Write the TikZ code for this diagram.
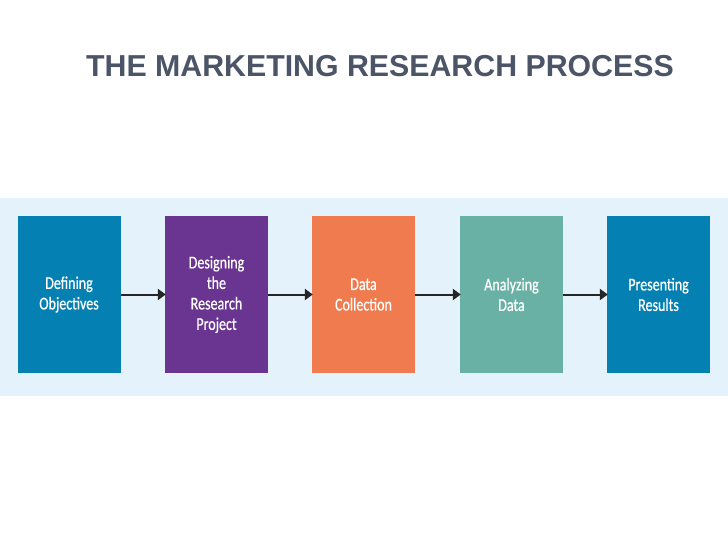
\documentclass[tikz,border=0pt]{standalone}
\usepackage{fontspec}
\setmainfont{Carlito}
\newfontfamily\boxfont[FakeStretch=0.78,FakeBold=0.6]{Carlito}
\newfontfamily\titlefont{Liberation Sans}
\usetikzlibrary{arrows.meta}
\definecolor{band}{HTML}{E3F2FB}
\definecolor{cblue}{HTML}{0580B2}
\definecolor{cpurple}{HTML}{6A3590}
\definecolor{corange}{HTML}{F07B4F}
\definecolor{cteal}{HTML}{6AB1A5}
\definecolor{ctitle}{HTML}{4B5567}
\begin{document}
\begin{tikzpicture}[x=1pt,y=-1pt,
  stepbox/.style={minimum width=103pt,minimum height=157pt,inner sep=0pt,text=white,
     font=\boxfont\fontsize{18}{20.5}\selectfont,align=center},
  flow/.style={draw=black!85,line width=2pt,-{Triangle[length=8pt,width=11pt]},shorten >=-1pt}]
\useasboundingbox (0,0) rectangle (728,546);
\fill[white] (0,0) rectangle (728,546);
\fill[band] (0,198) rectangle (728,396);
\node[font=\titlefont\bfseries\fontsize{30.3}{34}\selectfont,text=ctitle,anchor=base] (title) at (380,76) {THE MARKETING RESEARCH PROCESS};
\node[stepbox,fill=cblue] (s1) at (69,294.5) {Defining\\Objectives};
\node[stepbox,fill=cpurple] (s2) at (216.5,294.5) {Designing\\the\\Research\\Project};
\node[stepbox,fill=corange] (s3) at (363.5,294.5) {Data\\Collection};
\node[stepbox,fill=cteal] (s4) at (511.5,294.5) {Analyzing\\Data};
\node[stepbox,fill=cblue] (s5) at (658.5,294.5) {Presenting\\Results};
\draw[flow] (s1) -- (s2);
\draw[flow] (s2) -- (s3);
\draw[flow] (s3) -- (s4);
\draw[flow] (s4) -- (s5);
\end{tikzpicture}
\end{document}
